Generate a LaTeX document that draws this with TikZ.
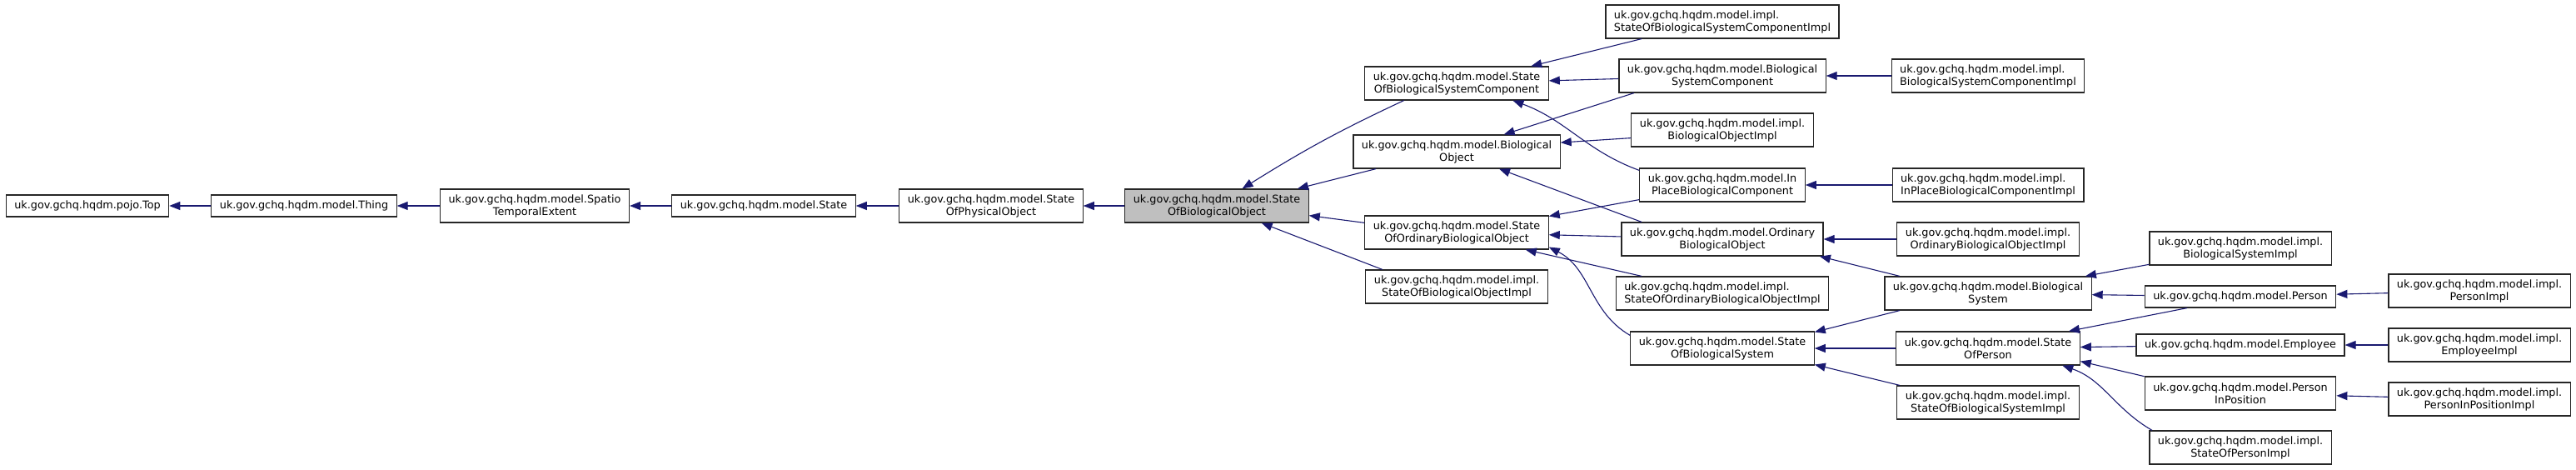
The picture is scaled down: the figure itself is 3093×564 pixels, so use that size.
\documentclass[tikz,border=0pt]{standalone}
\usepackage{fontspec}
\setmainfont{DejaVu Sans}
\usetikzlibrary{arrows.meta}
\definecolor{midnightblue}{RGB}{25,25,112}
\definecolor{grey75}{RGB}{191,191,191}

\begin{document}
\begin{tikzpicture}[x=1pt, y=1pt,
    % class box
    cls/.style={
        draw=black!85,
        line width=1.2pt,
        fill=white,
        align=center,
        inner xsep=10pt,
        inner ysep=6pt,
        minimum height=26pt,
        font=\fontsize{12.8}{15}\selectfont
    },
    dbl/.style={cls, minimum height=40pt},
    lft/.style={dbl, align=left},
    focus/.style={dbl, fill=grey75},
    % inheritance arrow
    inh/.style={-{Triangle[length=13pt, width=10pt]}, midnightblue, line width=1.1pt}
]

    \useasboundingbox (0,0) rectangle (3093,-564);

    % ================== main chain ==================
    \node[cls] (top) at (105,-247) {uk.gov.gchq.hqdm.pojo.Top};
    \node[cls] (thing) at (365,-247) {uk.gov.gchq.hqdm.model.Thing};
    \node[dbl] (spatio) at (642,-247) {uk.gov.gchq.hqdm.model.Spatio\\TemporalExtent};
    \node[cls] (state) at (917,-247) {uk.gov.gchq.hqdm.model.State};
    \node[dbl] (sophys) at (1190,-247) {uk.gov.gchq.hqdm.model.State\\OfPhysicalObject};
    \node[focus] (sobo) at (1461,-247) {uk.gov.gchq.hqdm.model.State\\OfBiologicalObject};

    % ================== column 7 ==================
    \node[dbl] (sobsc) at (1749,-100) {uk.gov.gchq.hqdm.model.State\\OfBiologicalSystemComponent};
    \node[dbl] (bo) at (1749,-182) {uk.gov.gchq.hqdm.model.Biological\\Object};
    \node[dbl] (soobo) at (1749,-279) {uk.gov.gchq.hqdm.model.State\\OfOrdinaryBiologicalObject};
    \node[dbl] (soboimpl) at (1749,-344) {uk.gov.gchq.hqdm.model.impl.\\StateOfBiologicalObjectImpl};

    % ================== column 8 ==================
    \node[lft] (sobscimpl) at (2068,-26) {uk.gov.gchq.hqdm.model.impl.\\StateOfBiologicalSystemComponentImpl};
    \node[dbl] (bsc) at (2068,-91) {uk.gov.gchq.hqdm.model.Biological\\SystemComponent};
    \node[dbl] (boimpl) at (2068,-156) {uk.gov.gchq.hqdm.model.impl.\\BiologicalObjectImpl};
    \node[dbl] (ipbc) at (2068,-222) {uk.gov.gchq.hqdm.model.In\\PlaceBiologicalComponent};
    \node[dbl] (obo) at (2068,-287) {uk.gov.gchq.hqdm.model.Ordinary\\BiologicalObject};
    \node[lft] (sooboimpl) at (2068,-352) {uk.gov.gchq.hqdm.model.impl.\\StateOfOrdinaryBiologicalObjectImpl};
    \node[dbl] (sobs) at (2068,-418) {uk.gov.gchq.hqdm.model.State\\OfBiologicalSystem};

    % ================== column 9 ==================
    \node[lft] (bscimpl) at (2387,-91) {uk.gov.gchq.hqdm.model.impl.\\BiologicalSystemComponentImpl};
    \node[lft] (ipbcimpl) at (2387,-222) {uk.gov.gchq.hqdm.model.impl.\\InPlaceBiologicalComponentImpl};
    \node[dbl] (oboimpl) at (2387,-287) {uk.gov.gchq.hqdm.model.impl.\\OrdinaryBiologicalObjectImpl};
    \node[dbl] (bs) at (2387,-352) {uk.gov.gchq.hqdm.model.Biological\\System};
    \node[dbl] (sop) at (2387,-418) {uk.gov.gchq.hqdm.model.State\\OfPerson};
    \node[dbl] (sobsimpl) at (2387,-483) {uk.gov.gchq.hqdm.model.impl.\\StateOfBiologicalSystemImpl};

    % ================== column 10 ==================
    \node[dbl] (bsimpl) at (2690,-298) {uk.gov.gchq.hqdm.model.impl.\\BiologicalSystemImpl};
    \node[cls] (person) at (2690,-356) {uk.gov.gchq.hqdm.model.Person};
    \node[cls] (employee) at (2690,-414) {uk.gov.gchq.hqdm.model.Employee};
    \node[dbl] (pip) at (2690,-472) {uk.gov.gchq.hqdm.model.Person\\InPosition};
    \node[dbl] (sopimpl) at (2690,-537) {uk.gov.gchq.hqdm.model.impl.\\StateOfPersonImpl};

    % ================== column 11 ==================
    \node[dbl] (personimpl) at (2977,-349) {uk.gov.gchq.hqdm.model.impl.\\PersonImpl};
    \node[dbl] (employeeimpl) at (2977,-414) {uk.gov.gchq.hqdm.model.impl.\\EmployeeImpl};
    \node[dbl] (pipimpl) at (2977,-479) {uk.gov.gchq.hqdm.model.impl.\\PersonInPositionImpl};

    % ================== inheritance ==================
    \draw[inh] (thing) -- (top);
    \draw[inh] (spatio) -- (thing);
    \draw[inh] (state) -- (spatio);
    \draw[inh] (sophys) -- (state);
    \draw[inh] (sobo) -- (sophys);

    % into StateOfBiologicalObject
    \draw[inh] (sobsc.198) to[out=205, in=32] (sobo.34);
    \draw[inh] (bo.192) -- (sobo.12);
    \draw[inh] (soobo.174) -- (sobo.-6);
    \draw[inh] (soboimpl.167) -- (sobo.-21);

    % column 8 -> column 7
    \draw[inh] (sobscimpl.192) -- (sobsc.13);
    \draw[inh] (bsc) -- (sobsc);
    \draw[inh] (ipbc.170) to[out=160, in=-20] (sobsc.-17);
    \draw[inh] (bsc.191) -- (bo.20);
    \draw[inh] (boimpl.185) -- (bo.5);
    \draw[inh] (obo.168) -- (bo.-22);
    \draw[inh] (ipbc.190) -- (soobo.10);
    \draw[inh] (obo) -- (soobo);
    \draw[inh] (sooboimpl.168) -- (soobo.-14);
    \draw[inh] (sobs.172) to[out=150, in=-27] (soobo.-9);

    % column 9 -> column 8
    \draw[inh] (bscimpl) -- (bsc);
    \draw[inh] (ipbcimpl) -- (ipbc);
    \draw[inh] (oboimpl) -- (obo);
    \draw[inh] (bs.169) -- (obo.-10);
    \draw[inh] (bs.191) -- (sobs.10);
    \draw[inh] (sop) -- (sobs);
    \draw[inh] (sobsimpl.169) -- (sobs.-10);

    % column 10 -> column 9
    \draw[inh] (bsimpl.190) -- (bs.10);
    \draw[inh] (person) -- (bs);
    \draw[inh] (person.192) -- (sop.12);
    \draw[inh] (employee) -- (sop);
    \draw[inh] (pip.170) -- (sop.-8);
    \draw[inh] (sopimpl.169) to[out=150, in=-19] (sop.-13);

    % column 11 -> column 10
    \draw[inh] (personimpl) -- (person);
    \draw[inh] (employeeimpl) -- (employee);
    \draw[inh] (pipimpl) -- (pip);

\end{tikzpicture}
\end{document}
